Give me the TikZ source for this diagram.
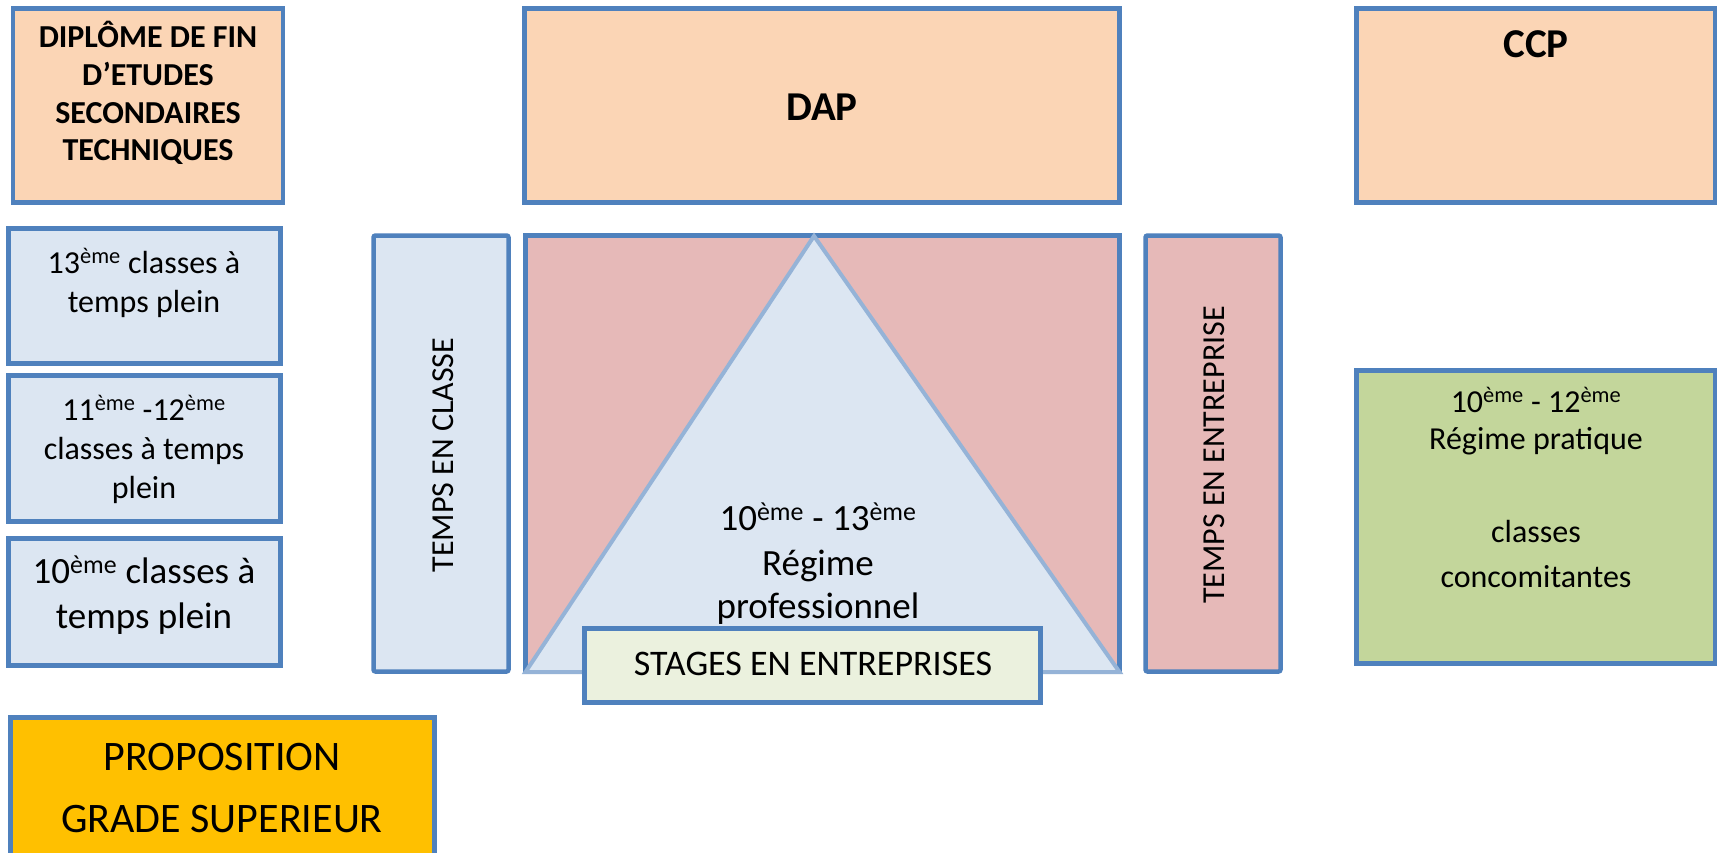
\documentclass[tikz,border=0pt]{standalone}
\usepackage{fontspec}
\setmainfont{Carlito}
\definecolor{bord}{HTML}{4F81BD}
\definecolor{peach}{HTML}{FBD5B5}
\definecolor{lblue}{HTML}{DCE6F2}
\definecolor{pinkf}{HTML}{E6B9B8}
\definecolor{greenf}{HTML}{C3D69B}
\definecolor{stagef}{HTML}{EBF1DE}
\definecolor{orangef}{HTML}{FFC000}
\definecolor{triline}{HTML}{95B3D7}
\newcommand\fs[2]{\fontsize{#1}{#2}\selectfont}
\newcommand\eme{\textsuperscript{ème}}
\begin{document}
\begin{tikzpicture}[x=1pt,y=-1pt,
  box/.style={draw=bord, line width=4.5pt, inner sep=0pt, outer sep=0pt},
  txt/.style={anchor=base, inner sep=0pt, outer sep=0pt},
  tri/.style={draw=triline, line width=4pt, fill=lblue, line join=miter},
]
\useasboundingbox (0,0) rectangle (1717,852);
\fill[white] (0,0) rectangle (1717,852);

% left column
\node[box, fill=peach, minimum width=270pt, minimum height=194pt] (dip) at (148,105.5) {};
\node[box, fill=lblue, minimum width=272pt, minimum height=135pt] (b13) at (144.5,296) {};
\node[box, fill=lblue, minimum width=272pt, minimum height=146pt] (b1112) at (144.5,448.5) {};
\node[box, fill=lblue, minimum width=272pt, minimum height=127pt] (b10) at (144.5,602) {};
\node[box, fill=orangef, minimum width=424pt, minimum height=182.5pt] (prop) at (222.5,808.75) {};

% centre
\node[box, fill=peach, minimum width=595pt, minimum height=194pt] (dap) at (822,105.5) {};
\node[box, fill=lblue, minimum width=135pt, minimum height=436pt, rounded corners=2pt] (tcl) at (441,453.5) {};
\node[box, fill=pinkf, minimum width=594pt, minimum height=436pt] (pink) at (822.5,453.5) {};
\node[box, fill=pinkf, minimum width=135pt, minimum height=436pt, rounded corners=2pt] (tent) at (1213,453.5) {};
\coordinate (apex) at (814,236);
\coordinate (bl) at (525.5,672);
\coordinate (br) at (1119.5,672);
\draw[tri] (bl) -- (apex) -- (br) -- cycle;

% right column
\node[box, fill=peach, minimum width=359pt, minimum height=194pt] (ccp) at (1536,105.5) {};
\node[box, fill=greenf, minimum width=359pt, minimum height=293pt] (green) at (1536,517) {};

% texts
\begin{scope}[every node/.append style={txt}]
\node[font=\fs{32}{38}\bfseries] (d1) at (148,47) {DIPLÔME DE FIN};
\node[font=\fs{32}{38}\bfseries] (d2) at (148,85) {D’ETUDES};
\node[font=\fs{32}{38}\bfseries] (d3) at (148,123) {SECONDAIRES};
\node[font=\fs{32}{38}\bfseries] (d4) at (148,160) {TECHNIQUES};

\node[font=\fs{32}{39}] (t13a) at (144,273) {13\eme{} classes à};
\node[font=\fs{32}{39}] (t13b) at (144,312) {temps plein};

\node[font=\fs{32}{39}] (t11a) at (144,420) {11\eme{} -12\eme};
\node[font=\fs{32}{39}] (t11b) at (144,459) {classes à temps};
\node[font=\fs{32}{39}] (t11c) at (144,498) {plein};

\node[font=\fs{37}{45}] (t10a) at (144,583) {10\eme{} classes à};
\node[font=\fs{37}{45}] (t10b) at (144,628) {temps plein};

\node[font=\fs{42}{51}] (p1) at (222,770) {PROPOSITION};
\node[font=\fs{42}{51}] (p2) at (222,832) {GRADE SUPERIEUR};

\node[font=\fs{41}{50}\bfseries] (dapt) at (822,120) {DAP};
\node[font=\fs{41}{50}\bfseries] (ccpt) at (1536,57) {CCP};

\node[font=\fs{37}{45}] (r1) at (818,530) {10\eme{} - 13\eme};
\node[font=\fs{37}{45}] (r2) at (818,575) {Régime};
\node[font=\fs{37}{45}] (r3) at (818,618) {professionnel};

\node[font=\fs{32}{39}] (g1) at (1536,412) {10\eme{} - 12\eme};
\node[font=\fs{32}{39}] (g2) at (1536,449) {Régime pratique};
\node[font=\fs{32}{39}] (g3) at (1536,542) {classes};
\node[font=\fs{32}{39}] (g4) at (1536,587) {concomitantes};
\end{scope}

\node[box, fill=stagef, minimum width=456pt, minimum height=74pt] (stages) at (812.5,665.5) {};
\node[txt, font=\fs{36}{44}] (stt) at (813,675) {STAGES EN ENTREPRISES};

\node[rotate=90, inner sep=0pt, font=\fs{32}{39}] (tclt) at (443,455) {TEMPS EN CLASSE};
\node[rotate=90, inner sep=0pt, font=\fs{32}{39}] (tentt) at (1214,455) {TEMPS EN ENTREPRISE};
\end{tikzpicture}
\end{document}
